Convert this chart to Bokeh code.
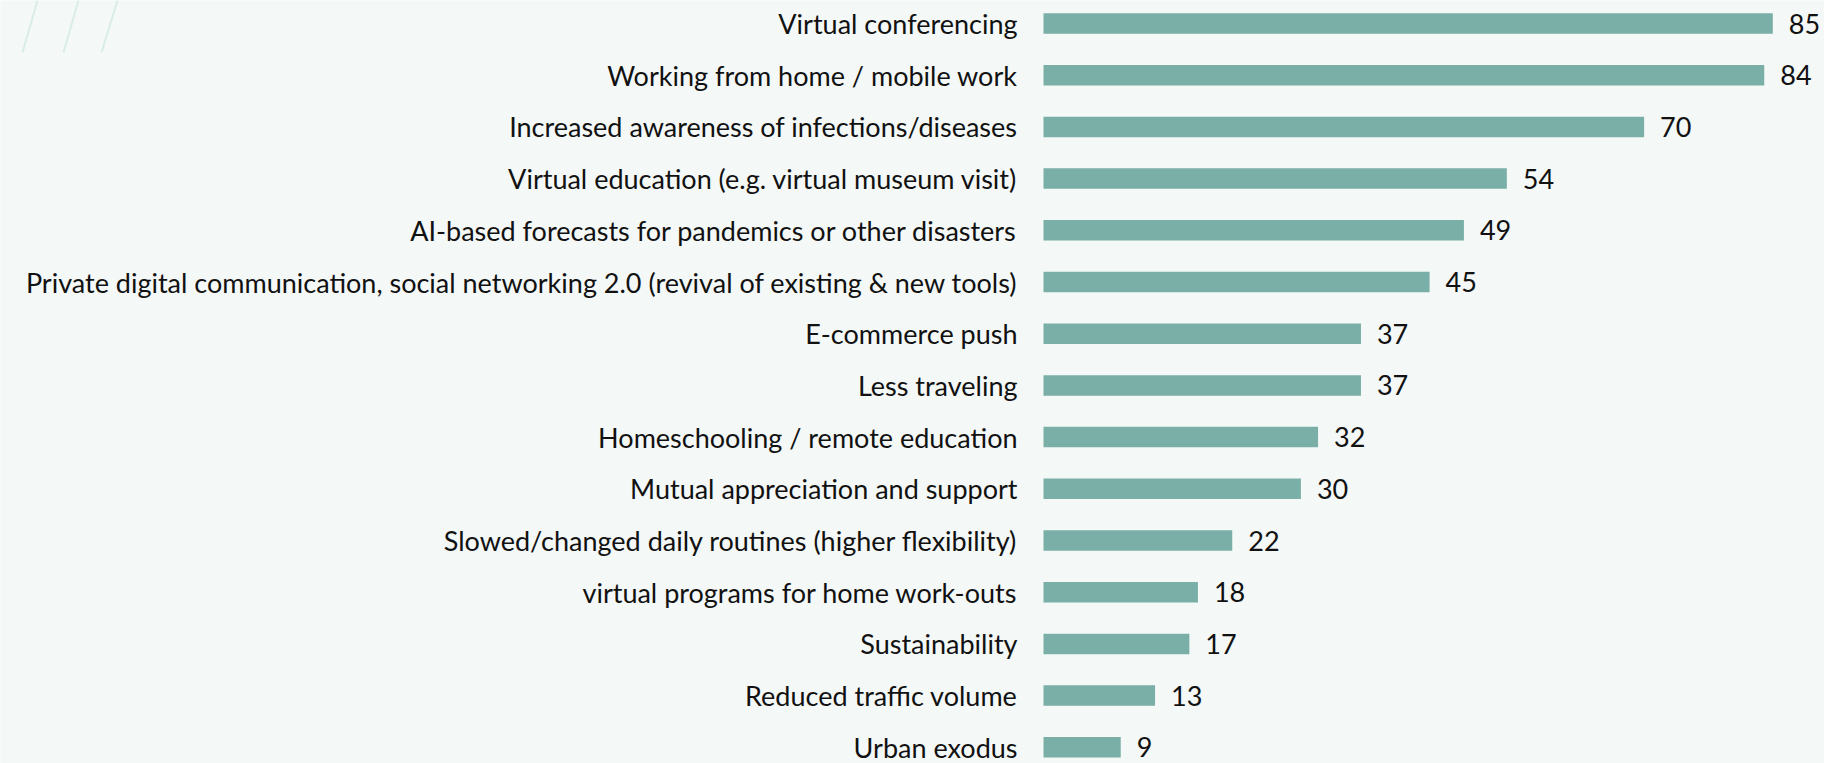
from bokeh.plotting import figure
from bokeh.models import Range1d, ColumnDataSource
from bokeh.core.properties import value
from bokeh.embed import file_html
from bokeh.resources import INLINE

categories = [
    "Virtual conferencing",
    "Working from home / mobile work",
    "Increased awareness of infections/diseases",
    "Virtual education (e.g. virtual museum visit)",
    "AI-based forecasts for pandemics or other disasters",
    "Private digital communication, social networking 2.0 (revival of existing & new tools)",
    "E-commerce push",
    "Less traveling",
    "Homeschooling / remote education",
    "Mutual appreciation and support",
    "Slowed/changed daily routines (higher flexibility)",
    "virtual programs for home work-outs",
    "Sustainability",
    "Reduced traffic volume",
    "Urban exodus",
]
values = [85, 84, 70, 54, 49, 45, 37, 37, 32, 30, 22, 18, 17, 13, 9]

W, H = 1824, 763
X0_PX = 1043.0      # pixel position of value 0
PX_PER_UNIT = 8.58
Y0_PX = 23.0        # centre of first bar
ROW_PX = 51.7
BAR_PX = 20.5

BG = "#F4F8F7"
BAR = "#79AFA6"
TXT = "#111111"
FONT = "Lato"
FS = "27px"

x_start = -X0_PX / PX_PER_UNIT
x_end = (W - X0_PX) / PX_PER_UNIT
y_top = -Y0_PX / ROW_PX
y_bot = (H - Y0_PX) / ROW_PX

p = figure(width=W, height=H, output_backend="svg", toolbar_location=None,
           x_range=Range1d(x_start, x_end), y_range=Range1d(y_bot, y_top),
           min_border=0, min_border_left=0, min_border_right=0,
           min_border_top=0, min_border_bottom=0)
p.background_fill_color = BG
p.border_fill_color = BG
p.outline_line_color = None
p.xaxis.visible = False
p.yaxis.visible = False
p.xgrid.visible = False
p.ygrid.visible = False

pos = list(range(len(categories)))
src = ColumnDataSource(dict(y=pos, v=values, cat=categories,
                            lab=[str(v) for v in values], zero=[0] * len(values)))

# decorative slashes at top left
def px2x(px):
    return x_start + px / PX_PER_UNIT

def px2y(py):
    return y_top + py / ROW_PX

sl_top = [37, 78, 117]
sl_bot = [22, 63, 101]
p.segment(x0=[px2x(a) for a in sl_top], y0=[px2y(0)] * 3,
          x1=[px2x(b) for b in sl_bot], y1=[px2y(52)] * 3,
          line_color="#d9ece8", line_width=2)

p.hbar(y="y", left=0, right="v", height=BAR_PX / ROW_PX, source=src,
       fill_color=BAR, line_color=None)

p.text(x="zero", y="y", text="cat", source=src, x_offset=-26,
       text_align="right", text_baseline="middle", text_color=TXT,
       text_font=value(FONT), text_font_size=FS)
p.text(x="v", y="y", text="lab", source=src, x_offset=16,
       text_align="left", text_baseline="middle", text_color=TXT,
       text_font=value(FONT), text_font_size=FS)

open("out.html", "w").write(file_html(p, INLINE))
